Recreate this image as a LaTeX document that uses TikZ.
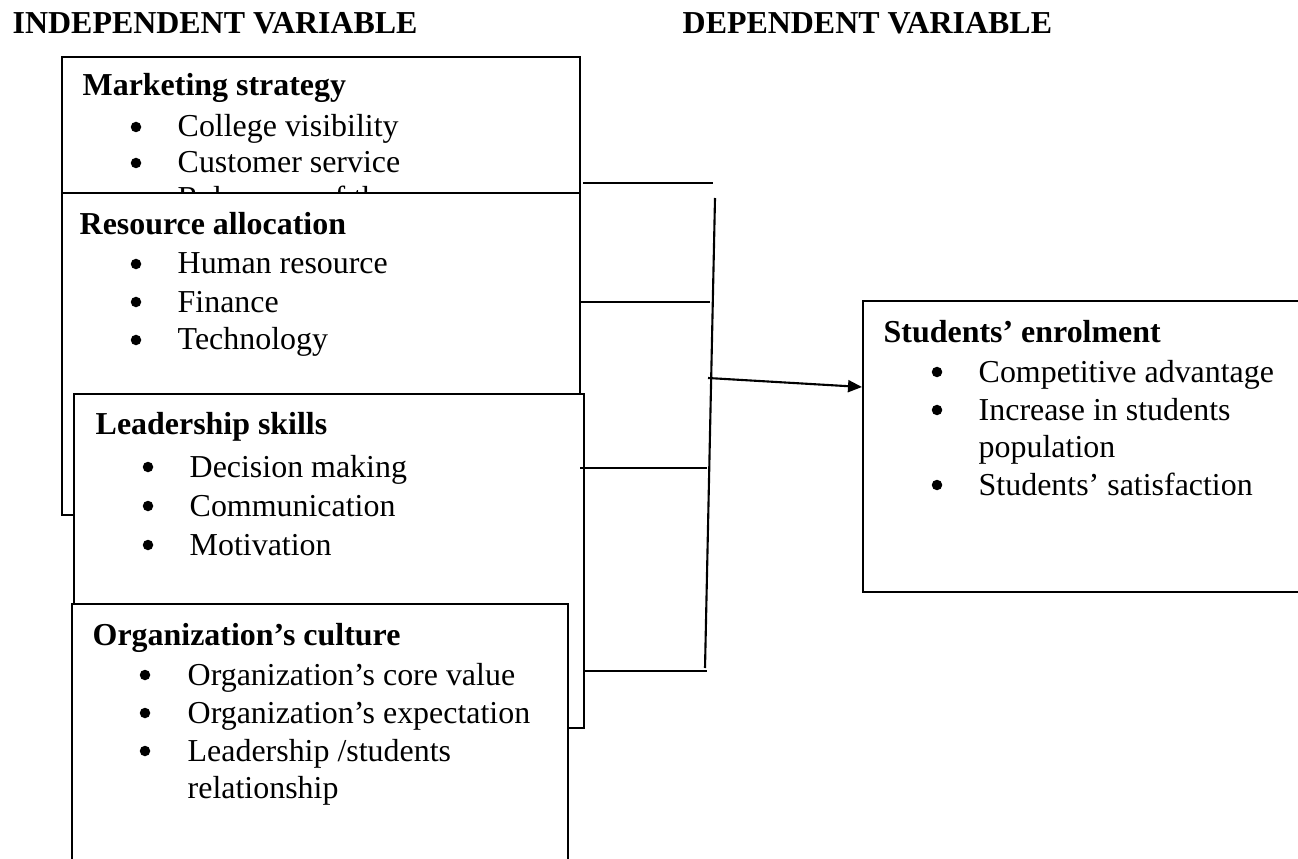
\documentclass[tikz,border=0pt]{standalone}
\usepackage{fontspec}
\setmainfont{Liberation Serif}
\usetikzlibrary{arrows.meta}

% one bulleted line: name, bullet x, text x, baseline y, text
\newcommand\bitem[5]{%
  \node[dotmark] (#1b) at (#2,#4-10) {};
  \node[itemtext] (#1) at (#3,#4) {#5};}

\begin{document}
\begin{tikzpicture}[x=0.01cm,y=-0.01cm,
  font=\fontsize{9.08}{10.8}\selectfont,
  panel/.style={draw, fill=white, line width=0.6pt, inner sep=0pt, anchor=north west},
  headtext/.style={anchor=base west, inner sep=0pt, font=\fontsize{9.08}{10.8}\selectfont\bfseries},
  itemtext/.style={anchor=base west, inner sep=0pt},
  dotmark/.style={circle, fill=black, inner sep=0pt, minimum size=0.105cm},
  link/.style={line width=0.6pt},
  arrowlink/.style={line width=0.6pt, -{Triangle[length=0.14cm, width=0.12cm]}}]

\useasboundingbox (0,0) rectangle (1298,858);
\clip (0,0) rectangle (1298,858);

% column titles
\node[headtext] (indep) at (12,34) {INDEPENDENT VARIABLE};
\node[headtext] (dep) at (682,34) {DEPENDENT VARIABLE};

% marketing strategy
\node[panel, minimum width=5.18cm, minimum height=2.65cm] (mark) at (61,56) {};
\node[headtext] (markh) at (82,96) {Marketing strategy};
\bitem{m1}{136}{177}{137}{College visibility}
\bitem{m2}{136}{177}{173}{Customer service}
\bitem{m3}{136}{177}{209}{Relevance of the}

% resource allocation
\node[panel, minimum width=5.18cm, minimum height=3.22cm] (res) at (61,192) {};
\node[headtext] (resh) at (79,235) {Resource allocation};
\bitem{r1}{136}{177}{274}{Human resource}
\bitem{r2}{136}{177}{312}{Finance}
\bitem{r3}{136}{177}{350}{Technology}

% leadership skills
\node[panel, minimum width=5.10cm, minimum height=3.34cm] (lead) at (73,393) {};
\node[headtext] (leadh) at (95,434) {Leadership skills};
\bitem{l1}{148}{189}{477}{Decision making}
\bitem{l2}{148}{189}{516}{Communication}
\bitem{l3}{148}{189}{555}{Motivation}

% organization's culture
\node[panel, minimum width=4.96cm, minimum height=2.80cm] (org) at (71,603) {};
\node[headtext] (orgh) at (92,645) {Organization’s culture};
\bitem{o1}{145}{187}{685}{Organization’s core value}
\bitem{o2}{145}{187}{723}{Organization’s expectation}
\bitem{o3}{145}{187}{761}{Leadership /students}
\node[itemtext] (o4) at (187,798) {relationship};

% students' enrolment
\node[panel, minimum width=4.60cm, minimum height=2.91cm] (enr) at (862,300) {};
\node[headtext] (enrh) at (883,342) {Students’ enrolment};
\bitem{e1}{937}{978}{382}{Competitive advantage}
\bitem{e2}{937}{978}{420}{Increase in students}
\node[itemtext] (e3) at (978,457) {population};
\bitem{e4}{937}{978}{495}{Students’ satisfaction}

% joining lines
\coordinate (s1) at (583,183); \coordinate (t1) at (713,183);
\coordinate (s2) at (579,302); \coordinate (t2) at (710,302);
\coordinate (s3) at (580,468); \coordinate (t3) at (707,468);
\coordinate (s4) at (583,671); \coordinate (t4) at (707,671);
\coordinate (bartop) at (715,198); \coordinate (barbot) at (705,668);
\coordinate (arrfrom) at (708,378); \coordinate (arrto) at (862,387);

\draw[link] (s1) -- (t1);
\draw[link] (s2) -- (t2);
\draw[link] (s3) -- (t3);
\draw[link] (s4) -- (t4);
\draw[link] (bartop) -- (barbot);
\draw[arrowlink] (arrfrom) -- (arrto);
\end{tikzpicture}
\end{document}
